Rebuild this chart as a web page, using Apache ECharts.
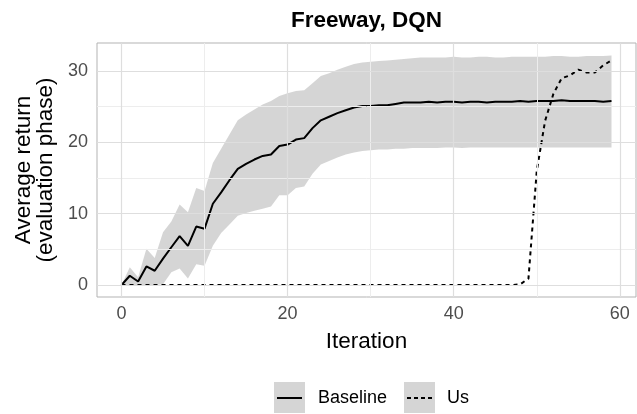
<!DOCTYPE html>
<html><head><meta charset="utf-8">
<script src="https://cdn.jsdelivr.net/npm/echarts@6/dist/echarts.min.js"></script>
<style>html,body{margin:0;padding:0;background:#fff}#c{width:637px;height:414px}</style>
</head><body><div id="c"></div>
<script>
const iterations = [0,1,2,3,4,5,6,7,8,9,10,11,12,13,14,15,16,17,18,19,20,21,22,23,24,25,26,27,28,29,30,31,32,33,34,35,36,37,38,39,40,41,42,43,44,45,46,47,48,49,50,51,52,53,54,55,56,57,58,59];
const baselineMean = [0,1.3,0.5,2.6,2.0,3.7,5.3,6.85,5.5,8.2,7.9,11.4,13.0,14.7,16.3,17.0,17.6,18.1,18.3,19.5,19.7,20.4,20.6,22.0,23.1,23.6,24.1,24.5,24.9,25.1,25.1,25.2,25.2,25.4,25.6,25.6,25.6,25.7,25.6,25.7,25.7,25.6,25.7,25.7,25.6,25.7,25.7,25.7,25.8,25.7,25.8,25.8,25.8,25.9,25.8,25.8,25.8,25.8,25.7,25.8];
const baselineLower = [0,0,0,0,0,0.1,1.8,2.3,0.9,2.9,2.7,5.5,7.3,8.5,9.7,10.1,10.4,10.7,11.0,12.6,12.6,13.6,13.8,15.6,16.9,17.4,17.9,18.3,18.6,18.8,18.9,19.0,19.0,19.1,19.1,19.2,19.2,19.2,19.2,19.3,19.3,19.2,19.3,19.3,19.3,19.3,19.3,19.3,19.3,19.3,19.3,19.3,19.3,19.3,19.3,19.3,19.3,19.3,19.3,19.3];
const baselineUpper = [0,2.5,1.1,5.1,3.8,7.4,8.9,11.3,10.2,13.6,13.2,17.1,19.1,21.1,23.1,23.9,24.6,25.3,25.8,26.5,26.9,27.2,27.3,28.3,29.3,29.7,30.2,30.6,31.0,31.2,31.3,31.4,31.5,31.6,31.7,31.8,31.9,31.9,31.9,31.9,32.0,31.9,31.9,32.0,32.0,31.9,31.9,32.0,32.0,32.0,32.0,32.0,32.1,32.1,32.0,32.0,32.1,32.1,32.1,32.2];
const usMean = [0,0,0,0,0,0,0,0,0,0,0,0,0,0,0,0,0,0,0,0,0,0,0,0,0,0,0,0,0,0,0,0,0,0,0,0,0,0,0,0,0,0,0,0,0,0,0,0,0.1,0.9,16.0,23.0,26.8,29.0,29.4,30.2,29.8,29.8,30.8,31.5];
const xTicks = [0,20,40,60];
const xMinor = [10,30,50];
const yTicks = [0,10,20,30];
const yMinor = [5,15,25];
const seriesNames = ['Baseline','Us'];
const titleText = 'Freeway, DQN';
const xTitle = 'Iteration';
const yTitle = 'Average return\n(evaluation phase)';

const FONT = 'Liberation Sans';
const BAND = 'rgba(179,179,179,0.55)';
const pairs = (ys) => iterations.map((x, i) => [x, ys[i]]);

const gridLines = [];
xMinor.forEach(v => gridLines.push({xAxis: v, lineStyle: {color: '#ededed', width: 1, type: 'solid'}}));
yMinor.forEach(v => gridLines.push({yAxis: v, lineStyle: {color: '#ededed', width: 1, type: 'solid'}}));
xTicks.forEach(v => gridLines.push({xAxis: v, lineStyle: {color: '#dedede', width: 1.2, type: 'solid'}}));
yTicks.forEach(v => gridLines.push({yAxis: v, lineStyle: {color: '#dedede', width: 1.2, type: 'solid'}}));

const chart = echarts.init(document.getElementById('c'), null, {renderer: 'canvas'});
chart.setOption({
  animation: false,
  backgroundColor: '#fff',
  textStyle: {fontFamily: FONT},
  title: {
    text: titleText, left: 361.5, textAlign: 'center', top: 4,
    textStyle: {fontFamily: FONT, fontSize: 22.5, fontWeight: 'bold', color: '#000'}
  },
  grid: {left: 97, right: 1, top: 43, bottom: 117, show: true, borderColor: '#b3b3b3', borderWidth: 1, backgroundColor: 'transparent'},
  xAxis: {
    type: 'value', min: -2.95, max: 61.95,
    axisLine: {show: false}, splitLine: {show: false},
    axisTick: {show: true, customValues: xTicks, length: 4, lineStyle: {color: '#b3b3b3', width: 1}},
    axisLabel: {customValues: xTicks, color: '#4d4d4d', fontSize: 18, margin: 8, fontFamily: FONT},
    name: xTitle, nameLocation: 'middle', nameGap: 33,
    nameTextStyle: {fontFamily: FONT, fontSize: 22.5, color: '#000'}
  },
  yAxis: {
    type: 'value', min: -1.68, max: 33.94,
    axisLine: {show: false}, splitLine: {show: false},
    axisTick: {show: true, customValues: yTicks, length: 4, lineStyle: {color: '#b3b3b3', width: 1}},
    axisLabel: {customValues: yTicks, color: '#4d4d4d', fontSize: 18, margin: 9, fontFamily: FONT},
    name: yTitle, nameLocation: 'middle', nameGap: 39, nameRotate: 90,
    nameTextStyle: {fontFamily: FONT, fontSize: 22.5, color: '#000', lineHeight: 22, align: 'center'}
  },
  series: [
    {
      name: 'gridHelper', type: 'line', data: pairs(baselineMean),
      symbol: 'none', lineStyle: {opacity: 0}, silent: true, z: 1,
      markLine: {silent: true, symbol: ['none','none'], label: {show: false}, animation: false, data: gridLines}
    },
    {
      name: 'band', type: 'custom', z: 2, silent: true,
      data: iterations.map((x, i) => [x, baselineLower[i], baselineUpper[i]]),
      encode: {x: 0, y: [1, 2]},
      renderItem: function (params, api) {
        if (params.dataIndex !== 0) return null;
        const up = [], lo = [];
        for (let i = 0; i < iterations.length; i++) {
          up.push(api.coord([iterations[i], baselineUpper[i]]));
          lo.push(api.coord([iterations[i], baselineLower[i]]));
        }
        return {type: 'polygon', shape: {points: up.concat(lo.reverse())}, style: {fill: BAND}};
      }
    },
    {
      name: seriesNames[0], type: 'line', data: pairs(baselineMean), symbol: 'none',
      lineStyle: {color: '#000', width: 2}, z: 3
    },
    {
      name: seriesNames[1], type: 'line', data: pairs(usMean), symbol: 'none',
      lineStyle: {color: '#000', width: 2, type: [4, 4]}, z: 3
    }
  ],
  graphic: [
    {type: 'rect', shape: {x: 274, y: 382, width: 31, height: 31}, style: {fill: BAND}},
    {type: 'line', shape: {x1: 277, y1: 398, x2: 302, y2: 398}, style: {stroke: '#000', lineWidth: 2}},
    {type: 'text', x: 318, y: 398, style: {text: seriesNames[0], fill: '#000', font: '18px "Liberation Sans"', verticalAlign: 'middle'}},
    {type: 'rect', shape: {x: 404, y: 382, width: 31, height: 31}, style: {fill: BAND}},
    {type: 'line', shape: {x1: 407, y1: 398, x2: 432, y2: 398}, style: {stroke: '#000', lineWidth: 2, lineDash: [4, 3]}},
    {type: 'text', x: 447, y: 398, style: {text: seriesNames[1], fill: '#000', font: '18px "Liberation Sans"', verticalAlign: 'middle'}}
  ]
});
</script></body></html>
